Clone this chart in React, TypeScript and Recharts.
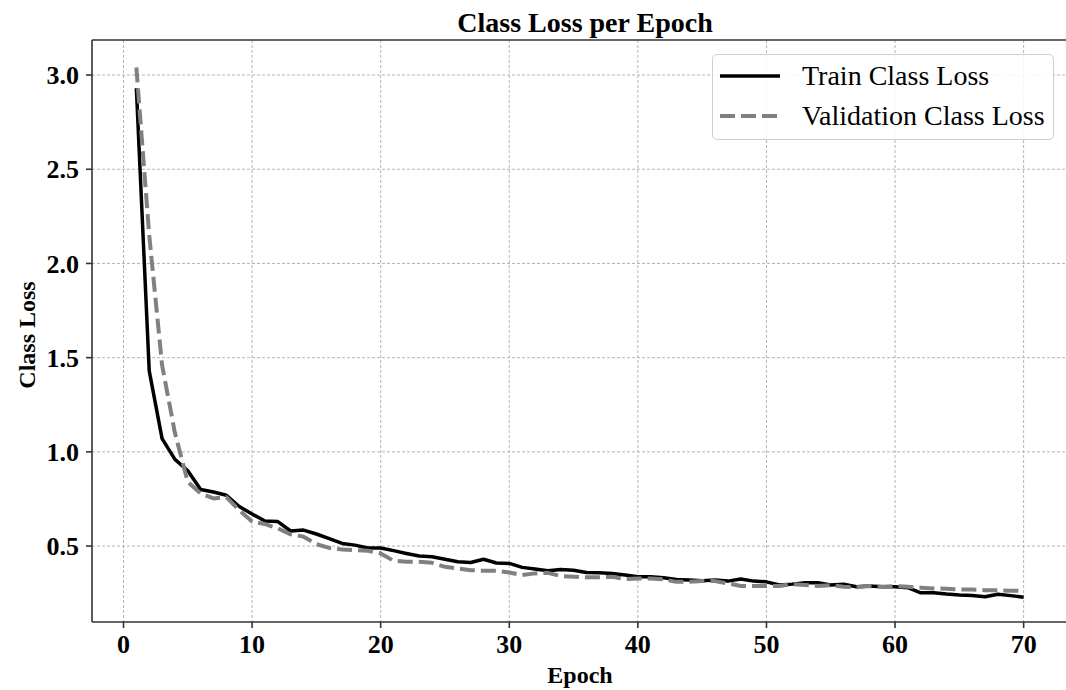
import { LineChart, Line, XAxis, YAxis, CartesianGrid, Legend, ReferenceLine } from 'recharts';

const epochs = [
  1, 2, 3, 4, 5, 6, 7, 8, 9, 10, 11, 12, 13, 14, 15, 16, 17, 18, 19, 20,
  21, 22, 23, 24, 25, 26, 27, 28, 29, 30, 31, 32, 33, 34, 35, 36, 37, 38, 39, 40,
  41, 42, 43, 44, 45, 46, 47, 48, 49, 50, 51, 52, 53, 54, 55, 56, 57, 58, 59, 60,
  61, 62, 63, 64, 65, 66, 67, 68, 69, 70,
];

const trainLoss = [
  2.93, 1.43, 1.07, 0.96, 0.9, 0.8, 0.787, 0.77, 0.71, 0.67,
  0.633, 0.63, 0.58, 0.585, 0.564, 0.54, 0.514, 0.505, 0.49, 0.49,
  0.476, 0.461, 0.447, 0.443, 0.43, 0.417, 0.413, 0.43, 0.41, 0.408,
  0.387, 0.378, 0.369, 0.376, 0.372, 0.36, 0.358, 0.355, 0.346, 0.337,
  0.337, 0.332, 0.323, 0.32, 0.316, 0.32, 0.314, 0.325, 0.314, 0.31,
  0.293, 0.298, 0.305, 0.305, 0.293, 0.297, 0.284, 0.288, 0.284, 0.284,
  0.279, 0.252, 0.252, 0.245, 0.24, 0.238, 0.231, 0.244, 0.237, 0.228,
];

const valLoss = [
  3.04, 2.15, 1.46, 1.1, 0.84, 0.78, 0.753, 0.76, 0.69, 0.63,
  0.617, 0.594, 0.562, 0.55, 0.51, 0.49, 0.482, 0.479, 0.475, 0.461,
  0.422, 0.417, 0.417, 0.411, 0.39, 0.381, 0.372, 0.369, 0.369, 0.36,
  0.346, 0.355, 0.358, 0.341, 0.337, 0.334, 0.334, 0.337, 0.325, 0.328,
  0.328, 0.323, 0.31, 0.31, 0.314, 0.314, 0.302, 0.288, 0.288, 0.288,
  0.288, 0.298, 0.293, 0.288, 0.293, 0.284, 0.281, 0.288, 0.284, 0.288,
  0.284, 0.279, 0.275, 0.274, 0.27, 0.27, 0.266, 0.266, 0.263, 0.263,
];

const xTicks = [0, 10, 20, 30, 40, 50, 60, 70];
const yTicks = [0.5, 1.0, 1.5, 2.0, 2.5, 3.0];

const data = epochs.map((e, i) => ({
  epoch: e,
  train: trainLoss[i],
  val: valLoss[i],
}));

const xDomain = [-2.45, 73.45];
const yDomain = [0.097, 3.186];

const serif = '"Liberation Serif", "Times New Roman", serif';
const spine = { stroke: '#333', strokeWidth: 1.6 };
const tickStyle = { fill: '#000', fontSize: 26, fontWeight: 'bold', fontFamily: serif };

const renderXLabel = (props: any) => {
  const { viewBox } = props;
  return (
    <text
      x={viewBox.x + viewBox.width / 2}
      y={viewBox.y + 61}
      textAnchor="middle"
      fontFamily={serif}
      fontWeight="bold"
      fontSize={24}
      fill="#000"
    >
      Epoch
    </text>
  );
};

const renderYLabel = (props: any) => {
  const { viewBox } = props;
  const x = viewBox.x + 27;
  const y = viewBox.y + viewBox.height / 2 + 4;
  return (
    <text
      x={x}
      y={y}
      transform={`rotate(-90 ${x} ${y})`}
      textAnchor="middle"
      dominantBaseline="central"
      fontFamily={serif}
      fontWeight="bold"
      fontSize={24}
      fill="#000"
    >
      Class Loss
    </text>
  );
};

const renderLegend = (props: any) => {
  const { payload } = props;
  return (
    <div
      style={{
        boxSizing: 'border-box',
        width: 342,
        height: 86,
        padding: '1px 7px',
        border: '1px solid #cfcfcf',
        borderRadius: 5,
        background: 'rgba(255,255,255,0.85)',
        fontFamily: serif,
        fontSize: 28,
        color: '#000',
      }}
    >
      {(payload || []).map((entry: any) => (
        <div key={entry.value} style={{ display: 'flex', alignItems: 'center', height: 40 }}>
          <svg width={60} height={10}>
            <line
              x1={0}
              y1={5}
              x2={60}
              y2={5}
              stroke={entry.color}
              strokeWidth={entry.payload?.strokeWidth}
              strokeDasharray={entry.payload?.strokeDasharray}
            />
          </svg>
          <span style={{ marginLeft: 22, whiteSpace: 'nowrap' }}>{entry.value}</span>
        </div>
      ))}
    </div>
  );
};

export default function App() {
  return (
    <div
      style={{
        position: 'fixed',
        left: 0,
        top: 0,
        width: 1066,
        height: 690,
        overflow: 'hidden',
        background: '#fff',
      }}
    >
      <svg width={1066} height={40} style={{ position: 'absolute', left: 0, top: 0 }}>
        <text
          x={585}
          y={31.5}
          textAnchor="middle"
          fontFamily={serif}
          fontWeight="bold"
          fontSize={28}
          fill="#000"
        >
          Class Loss per Epoch
        </text>
      </svg>
      <div style={{ position: 'absolute', left: 0, top: 0 }}>
        <LineChart
          width={1068}
          height={690}
          data={data}
          margin={{ top: 40, right: 0, bottom: 0, left: 0 }}
        >
          <CartesianGrid
            stroke="#b5b5b5"
            strokeDasharray="3 2"
            strokeWidth={1}
            horizontalValues={yTicks}
            verticalValues={xTicks}
          />
          <XAxis
            dataKey="epoch"
            type="number"
            domain={xDomain}
            ticks={xTicks}
            allowDataOverflow
            height={68}
            axisLine={spine}
            tickLine={spine}
            tickSize={6}
            tickMargin={7}
            tick={tickStyle}
            label={renderXLabel}
          />
          <YAxis
            type="number"
            domain={yDomain}
            ticks={yTicks}
            allowDataOverflow
            width={92}
            axisLine={spine}
            tickLine={spine}
            tickSize={6}
            tickMargin={7}
            tick={tickStyle}
            tickFormatter={(v: number) => v.toFixed(1)}
            label={renderYLabel}
          />
          <ReferenceLine y={yDomain[1]} stroke="#333" strokeWidth={1.6} ifOverflow="visible" />
          <Legend
            layout="horizontal"
            verticalAlign="middle"
            align="center"
            content={renderLegend}
            wrapperStyle={{ position: 'absolute', left: 712, top: 54, width: 342, height: 86 }}
          />
          <Line
            type="linear"
            dataKey="train"
            name="Train Class Loss"
            stroke="#000"
            strokeWidth={3.5}
            strokeLinejoin="round"
            dot={false}
            activeDot={false}
            isAnimationActive={false}
          />
          <Line
            type="linear"
            dataKey="val"
            name="Validation Class Loss"
            stroke="#808080"
            strokeWidth={4}
            strokeDasharray="15 6"
            strokeLinejoin="round"
            dot={false}
            activeDot={false}
            isAnimationActive={false}
          />
        </LineChart>
      </div>
    </div>
  );
}
